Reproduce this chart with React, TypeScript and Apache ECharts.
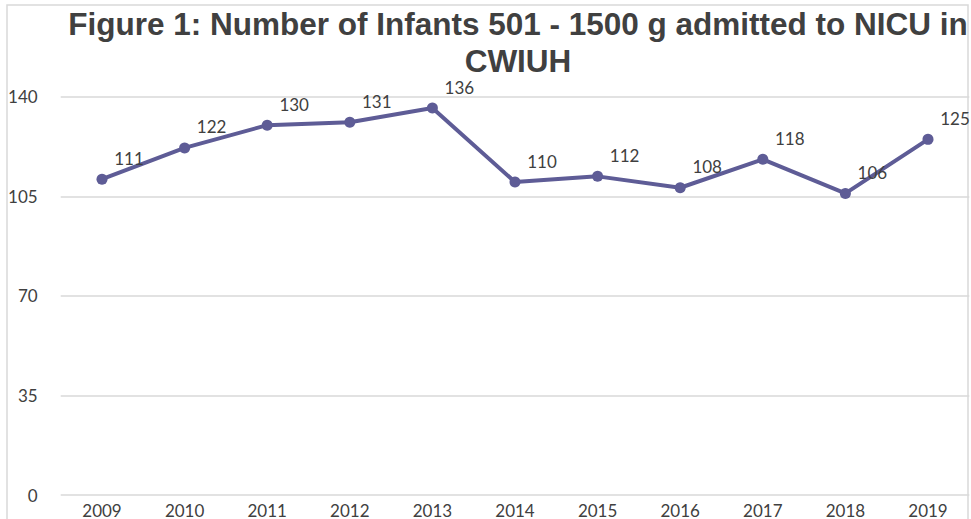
import React, { useEffect, useRef } from "react";
import * as echarts from "echarts";

const years = ["2009", "2010", "2011", "2012", "2013", "2014", "2015", "2016", "2017", "2018", "2019"];
const infants = [111, 122, 130, 131, 136, 110, 112, 108, 118, 106, 125];
const titleText = "Figure 1: Number of Infants 501 - 1500 g admitted to NICU in\nCWIUH";

export default function App() {
  const ref = useRef<HTMLDivElement>(null);
  useEffect(() => {
    if (!ref.current) return;
    const chart = echarts.init(ref.current, null, { renderer: "svg" });
    chart.setOption({
      animation: false,
      backgroundColor: "#ffffff",
      title: {
        text: titleText,
        left: 513,
        top: 0,
        textAlign: "center",
        textStyle: {
          fontFamily: "Liberation Sans, Arial, sans-serif",
          fontWeight: "bold",
          fontSize: 31.5,
          lineHeight: 37,
          color: "#404040",
        },
      },
      graphic: [
        {
          type: "rect",
          shape: { x: 7, y: 5, width: 961, height: 540 },
          style: { fill: "none", stroke: "#d9d9d9", lineWidth: 1.5 },
          z: -1,
          silent: true,
        },
      ],
      grid: { left: 60.7, right: 1.7, top: 96.7, bottom: 22.3, containLabel: false },
      xAxis: {
        type: "category",
        data: years,
        boundaryGap: true,
        axisLine: { show: false },
        axisTick: { show: false },
        axisLabel: {
          margin: 7,
          fontFamily: "Lato, sans-serif",
          fontSize: 17,
          color: "#404040",
        },
      },
      yAxis: {
        type: "value",
        min: 0,
        max: 140,
        interval: 35,
        axisLine: { show: false },
        axisTick: { show: false },
        axisLabel: {
          margin: 23,
          fontFamily: "Lato, sans-serif",
          fontSize: 17,
          color: "#404040",
        },
        splitLine: { lineStyle: { color: "#d9d9d9", width: 1.5 } },
      },
      series: [
        {
          type: "line",
          data: infants,
          symbol: "circle",
          symbolSize: 11,
          itemStyle: { color: "#5E5C96" },
          lineStyle: { color: "#5E5C96", width: 4 },
          label: {
            show: true,
            position: "inside",
            offset: [27, -21],
            fontFamily: "Lato, sans-serif",
            fontSize: 17,
            color: "#404040",
          },
        },
      ],
    });
    return () => chart.dispose();
  }, []);
  return (
    <div
      ref={ref}
      style={{ position: "fixed", left: 0, top: 0, width: 971, height: 519 }}
    />
  );
}
